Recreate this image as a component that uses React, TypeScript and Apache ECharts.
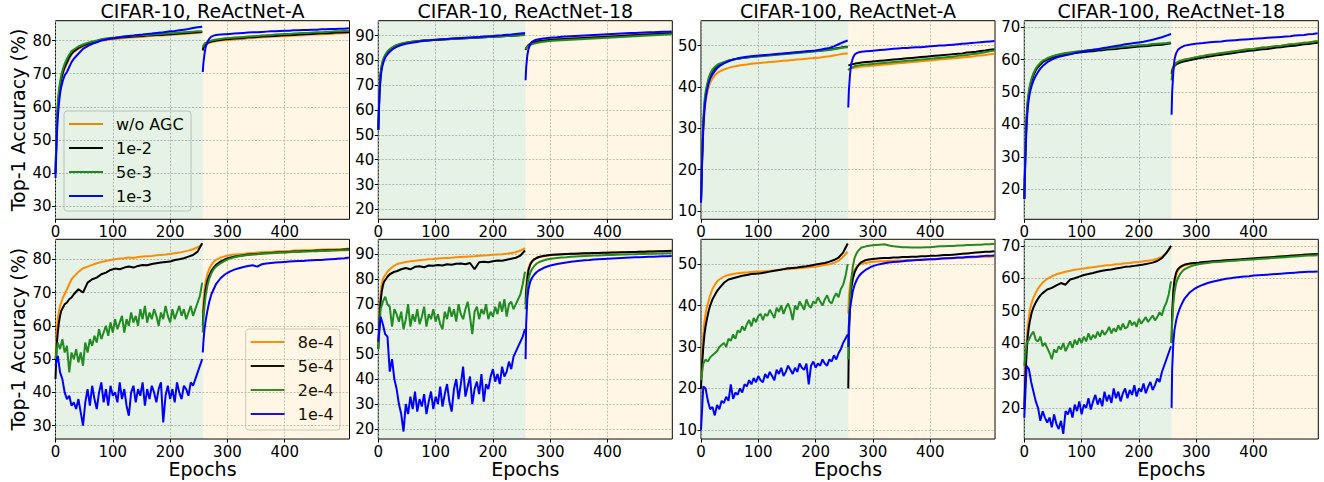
import React, { useEffect, useRef } from 'react';
import * as echarts from 'echarts';

// ---------- shared axes / labels ----------
const EPOCHS_S1 = [0, 2, 4, 6, 8, 10, 13, 16, 20, 24, 28, 32, 40, 48, 56, 64, 72, 80, 88, 96, 104, 112, 120, 128, 136, 144, 152, 160, 168, 176, 184, 192, 200, 208, 216, 224, 232, 240, 248, 256];
const EPOCHS_S1_DENSE = [0, 4, 8, 12, 16, 20, 24, 28, 32, 36, 40, 44, 48, 52, 56, 60, 64, 68, 72, 76, 80, 84, 88, 92, 96, 100, 104, 108, 112, 116, 120, 124, 128, 132, 136, 140, 144, 148, 152, 156, 160, 164, 168, 172, 176, 180, 184, 188, 192, 196, 200, 204, 208, 212, 216, 220, 224, 228, 232, 236, 240, 244, 248, 252, 256];
const EPOCHS_S2 = [257, 258, 260, 262, 265, 268, 272, 276, 280, 288, 296, 304, 312, 320, 328, 336, 344, 352, 360, 368, 376, 384, 392, 400, 408, 416, 424, 432, 440, 448, 456, 464, 472, 480, 488, 496, 504, 512];
const X_TICKS = [0, 100, 200, 300, 400];
const TITLES = ['CIFAR-10, ReActNet-A', 'CIFAR-10, ReActNet-18', 'CIFAR-100, ReActNet-A', 'CIFAR-100, ReActNet-18'];
const AGC_LABELS = ['w/o AGC', '1e-2', '5e-3', '1e-3'];
const WD_LABELS = ['8e-4', '5e-4', '2e-4', '1e-4'];
const Y_TICKS_C10A = [30, 40, 50, 60, 70, 80];
const Y_TICKS_C10R = [20, 30, 40, 50, 60, 70, 80, 90];
const Y_TICKS_C100A = [10, 20, 30, 40, 50];
const Y_TICKS_C100R = [20, 30, 40, 50, 60, 70];
const COLORS = ['#ff8c00', '#000000', '#228b22', '#0000ff'];

// ---------- top row: CIFAR-10, ReActNet-A ----------
const c10A_wo_1 = [40, 52, 59, 63, 66, 68, 70, 71.5, 73, 74.5, 75.8, 76.5, 77.5, 78.2, 78.8, 79.2, 79.6, 80, 80.1, 80.4, 80.5, 80.6, 80.8, 80.9, 81, 81.1, 81.1, 81.3, 81.4, 81.5, 81.5, 81.6, 81.7, 81.8, 81.9, 82, 82.1, 82.2, 82.3, 82.5];
const c10A_wo_2 = [77.5, 78, 78.5, 78.8, 79, 79.3, 79.5, 79.6, 79.8, 80, 80.1, 80.2, 80.3, 80.5, 80.5, 80.7, 80.8, 80.9, 81, 81, 81.1, 81.2, 81.3, 81.3, 81.4, 81.5, 81.5, 81.6, 81.7, 81.8, 81.8, 81.9, 82, 82, 82.1, 82.2, 82.2, 82.3];
const c10A_e2_1 = [40, 53, 60, 64, 66.5, 68.5, 70.5, 72, 73.5, 75, 76, 76.8, 77.8, 78.5, 79, 79.4, 79.8, 80.2, 80.4, 80.6, 80.7, 80.9, 81, 81.1, 81.2, 81.3, 81.4, 81.5, 81.6, 81.7, 81.7, 81.8, 81.9, 82, 82.1, 82.2, 82.3, 82.4, 82.5, 82.6];
const c10A_e2_2 = [77, 77.8, 78.5, 78.8, 79.2, 79.5, 79.7, 79.9, 80, 80.2, 80.4, 80.5, 80.6, 80.7, 80.8, 81, 81, 81.1, 81.2, 81.3, 81.4, 81.4, 81.5, 81.6, 81.7, 81.7, 81.8, 81.9, 82, 82, 82.1, 82.2, 82.2, 82.3, 82.4, 82.4, 82.5, 82.6];
const c10A_5e3_1 = [40, 54, 61, 65, 67.5, 69.5, 71.5, 73, 74.5, 75.8, 76.8, 77.3, 78.2, 78.8, 79.3, 79.7, 80, 80.4, 80.6, 80.8, 80.9, 81.1, 81.2, 81.3, 81.4, 81.5, 81.6, 81.7, 81.8, 81.9, 82, 82.1, 82.2, 82.3, 82.4, 82.5, 82.6, 82.7, 82.8, 82.8];
const c10A_5e3_2 = [78, 78.5, 79, 79.3, 79.5, 79.8, 80, 80.2, 80.3, 80.5, 80.7, 80.8, 80.9, 81, 81.1, 81.2, 81.3, 81.4, 81.5, 81.6, 81.7, 81.8, 81.9, 82, 82, 82.1, 82.2, 82.3, 82.3, 82.4, 82.5, 82.5, 82.6, 82.7, 82.8, 82.8, 82.9, 83];
const c10A_e3_1 = [38.5, 50, 57, 61, 64, 66, 68, 69.5, 70.5, 72, 73.5, 74.5, 76, 77.5, 78.3, 79, 79.5, 80, 80.3, 80.6, 80.8, 81, 81.2, 81.4, 81.5, 81.7, 81.8, 82, 82.1, 82.3, 82.4, 82.6, 82.8, 82.9, 83.1, 83.3, 83.5, 83.8, 84, 84.2];
const c10A_e3_2 = [70.5, 73, 76, 78, 79.5, 80.5, 81.2, 81.5, 81.7, 81.8, 81.9, 82, 82.1, 82.2, 82.3, 82.4, 82.5, 82.5, 82.6, 82.7, 82.8, 82.8, 82.9, 83, 83, 83.1, 83.1, 83.2, 83.2, 83.3, 83.3, 83.4, 83.4, 83.5, 83.5, 83.6, 83.6, 83.7];

// ---------- top row: CIFAR-10, ReActNet-18 ----------
const c10R_wo_1 = [52, 68, 75, 78, 80, 81, 82.5, 83.5, 84.5, 85.2, 85.8, 86.2, 86.8, 87.2, 87.5, 87.7, 87.9, 88.1, 88.2, 88.3, 88.4, 88.5, 88.6, 88.7, 88.8, 88.9, 89, 89.1, 89.1, 89.2, 89.3, 89.4, 89.5, 89.6, 89.7, 89.8, 89.9, 90, 90.1, 90.3];
const c10R_wo_2 = [84.5, 85, 85.8, 86.3, 86.8, 87.2, 87.5, 87.7, 87.9, 88.1, 88.3, 88.5, 88.6, 88.7, 88.8, 88.9, 89, 89.1, 89.2, 89.3, 89.4, 89.5, 89.6, 89.7, 89.8, 89.9, 90, 90.1, 90.2, 90.3, 90.4, 90.5, 90.6, 90.7, 90.8, 90.9, 91, 91.1];
const c10R_e2_1 = [52, 67, 74.5, 77.5, 79.5, 80.8, 82.3, 83.3, 84.3, 85, 85.6, 86, 86.6, 87, 87.4, 87.6, 87.8, 88, 88.1, 88.2, 88.3, 88.4, 88.5, 88.6, 88.7, 88.8, 88.9, 89, 89.1, 89.2, 89.3, 89.4, 89.5, 89.6, 89.7, 89.8, 89.9, 90, 90.2, 90.3];
const c10R_e2_2 = [84.2, 84.8, 85.5, 86, 86.6, 87, 87.3, 87.5, 87.7, 87.9, 88.1, 88.3, 88.4, 88.5, 88.6, 88.7, 88.8, 88.9, 89, 89.1, 89.2, 89.3, 89.4, 89.5, 89.6, 89.7, 89.8, 89.9, 90, 90.1, 90.2, 90.3, 90.4, 90.5, 90.6, 90.7, 90.8, 90.9];
const c10R_5e3_1 = [52, 68, 75, 78, 80, 81.2, 82.6, 83.6, 84.5, 85.2, 85.7, 86.1, 86.7, 87.1, 87.4, 87.6, 87.8, 88, 88.1, 88.2, 88.3, 88.4, 88.5, 88.6, 88.7, 88.8, 88.9, 89, 89.1, 89.2, 89.3, 89.4, 89.5, 89.6, 89.7, 89.8, 89.9, 90, 90.1, 90.2];
const c10R_5e3_2 = [84.5, 85, 85.5, 85.8, 86.2, 86.5, 86.8, 87, 87.2, 87.5, 87.7, 87.9, 88, 88.1, 88.2, 88.3, 88.4, 88.5, 88.6, 88.7, 88.8, 88.9, 89, 89.1, 89.2, 89.3, 89.4, 89.5, 89.6, 89.7, 89.8, 89.9, 90, 90.1, 90.2, 90.3, 90.4, 90.5];
const c10R_e3_1 = [52, 66, 73, 76.5, 78.5, 80, 81.5, 82.5, 83.5, 84.3, 85, 85.5, 86.2, 86.7, 87, 87.3, 87.6, 87.9, 88, 88.2, 88.3, 88.5, 88.6, 88.8, 88.9, 89, 89.1, 89.2, 89.3, 89.4, 89.6, 89.7, 89.8, 90, 90.1, 90.3, 90.4, 90.6, 90.8, 91];
const c10R_e3_2 = [72, 77, 82, 84.5, 86.5, 87.5, 88, 88.3, 88.5, 88.8, 89, 89.2, 89.3, 89.5, 89.6, 89.7, 89.8, 89.9, 90, 90.1, 90.2, 90.3, 90.4, 90.5, 90.6, 90.7, 90.8, 90.9, 91, 91, 91.1, 91.2, 91.3, 91.3, 91.4, 91.5, 91.5, 91.6];

// ---------- top row: CIFAR-100, ReActNet-A ----------
const c100A_wo_1 = [12, 22, 30, 34, 36.5, 38, 39.8, 41, 42, 42.8, 43.3, 43.7, 44.2, 44.6, 44.9, 45.1, 45.3, 45.4, 45.6, 45.7, 45.8, 45.9, 46, 46.1, 46.2, 46.3, 46.4, 46.5, 46.6, 46.7, 46.8, 46.9, 47, 47.1, 47.3, 47.4, 47.6, 47.8, 48, 48.1];
const c100A_wo_2 = [44.3, 44.2, 44.4, 44.5, 44.5, 44.6, 44.7, 44.8, 44.9, 45, 45.1, 45.2, 45.3, 45.4, 45.5, 45.6, 45.7, 45.8, 45.9, 46, 46.1, 46.2, 46.3, 46.4, 46.5, 46.6, 46.7, 46.8, 46.9, 47, 47.1, 47.2, 47.3, 47.5, 47.6, 47.7, 47.9, 48];
const c100A_e2_1 = [12, 23, 31, 35.5, 38, 39.5, 41.5, 42.8, 43.8, 44.5, 45, 45.4, 45.9, 46.3, 46.6, 46.8, 47, 47.1, 47.3, 47.4, 47.5, 47.6, 47.7, 47.8, 47.9, 48, 48.1, 48.2, 48.3, 48.4, 48.5, 48.6, 48.7, 48.8, 48.9, 49, 49.2, 49.4, 49.6, 49.7];
const c100A_e2_2 = [45.2, 45.3, 45.3, 45.4, 45.5, 45.6, 45.7, 45.8, 45.9, 46, 46.1, 46.2, 46.3, 46.4, 46.5, 46.6, 46.7, 46.8, 46.9, 47, 47.1, 47.2, 47.3, 47.4, 47.5, 47.6, 47.7, 47.8, 47.9, 48, 48.1, 48.3, 48.4, 48.5, 48.7, 48.8, 49, 49.1];
const c100A_5e3_1 = [12, 24, 32, 36.5, 38.8, 40.2, 42, 43.2, 44.2, 44.8, 45.3, 45.6, 46, 46.4, 46.6, 46.8, 47, 47.1, 47.2, 47.3, 47.4, 47.5, 47.6, 47.7, 47.8, 47.9, 48, 48.1, 48.2, 48.3, 48.4, 48.5, 48.6, 48.7, 48.8, 48.9, 49.1, 49.3, 49.5, 49.6];
const c100A_5e3_2 = [44, 44.2, 44.4, 44.6, 44.8, 45, 45.1, 45.2, 45.3, 45.4, 45.5, 45.6, 45.7, 45.8, 45.9, 46, 46.1, 46.2, 46.3, 46.4, 46.5, 46.6, 46.7, 46.8, 46.9, 47, 47.1, 47.2, 47.3, 47.5, 47.6, 47.7, 47.9, 48, 48.2, 48.4, 48.6, 48.8];
const c100A_e3_1 = [12, 22, 30, 34.5, 37, 38.8, 40.8, 42, 43, 43.8, 44.5, 45, 45.7, 46.2, 46.6, 46.9, 47.1, 47.3, 47.4, 47.5, 47.6, 47.7, 47.8, 47.9, 48, 48.1, 48.2, 48.3, 48.4, 48.5, 48.6, 48.7, 48.8, 49, 49.2, 49.4, 49.8, 50.3, 50.8, 51.2];
const c100A_e3_2 = [35, 39, 43, 45.5, 47, 47.8, 48.2, 48.4, 48.5, 48.6, 48.7, 48.8, 48.9, 49, 49.1, 49.2, 49.3, 49.4, 49.4, 49.5, 49.6, 49.6, 49.7, 49.8, 49.9, 50, 50, 50.1, 50.2, 50.3, 50.4, 50.5, 50.6, 50.7, 50.8, 50.9, 51, 51.1];

// ---------- top row: CIFAR-100, ReActNet-18 ----------
const c100R_wo_1 = [17, 33, 42, 47, 50, 52, 54, 55.5, 57, 58, 58.8, 59.5, 60.3, 60.9, 61.3, 61.6, 61.9, 62.1, 62.3, 62.5, 62.6, 62.8, 62.9, 63.1, 63.2, 63.4, 63.5, 63.6, 63.8, 63.9, 64, 64.2, 64.3, 64.4, 64.5, 64.7, 64.8, 64.9, 65, 65.2];
const c100R_wo_2 = [56, 57, 58, 58.5, 59, 59.3, 59.6, 59.8, 60, 60.3, 60.6, 60.9, 61.1, 61.4, 61.6, 61.8, 62, 62.2, 62.4, 62.6, 62.8, 63, 63.2, 63.3, 63.5, 63.7, 63.8, 64, 64.2, 64.3, 64.5, 64.7, 64.8, 65, 65.2, 65.3, 65.5, 65.7];
const c100R_e2_1 = [17, 32, 41.5, 46.5, 49.5, 51.5, 53.6, 55.2, 56.7, 57.7, 58.5, 59.2, 60, 60.6, 61, 61.3, 61.6, 61.8, 62, 62.2, 62.3, 62.5, 62.6, 62.8, 62.9, 63.1, 63.2, 63.3, 63.5, 63.6, 63.7, 63.9, 64, 64.1, 64.2, 64.4, 64.5, 64.6, 64.8, 65];
const c100R_e2_2 = [55.5, 56.5, 57.5, 58, 58.5, 58.8, 59.1, 59.3, 59.5, 59.8, 60.1, 60.4, 60.6, 60.9, 61.1, 61.3, 61.5, 61.7, 61.9, 62.1, 62.3, 62.5, 62.7, 62.8, 63, 63.2, 63.3, 63.5, 63.7, 63.8, 64, 64.2, 64.3, 64.5, 64.7, 64.8, 65, 65.2];
const c100R_5e3_1 = [17, 33, 42.5, 47.5, 50.3, 52.3, 54.3, 55.8, 57.2, 58.2, 59, 59.6, 60.4, 61, 61.4, 61.7, 62, 62.2, 62.4, 62.6, 62.7, 62.9, 63, 63.2, 63.3, 63.5, 63.6, 63.7, 63.9, 64, 64.1, 64.3, 64.4, 64.5, 64.6, 64.8, 64.9, 65, 65.1, 65.3];
const c100R_5e3_2 = [53.6, 55.5, 57.2, 58.2, 58.9, 59.3, 59.6, 59.8, 60, 60.3, 60.6, 60.9, 61.1, 61.4, 61.6, 61.8, 62, 62.2, 62.4, 62.6, 62.8, 63, 63.2, 63.3, 63.5, 63.7, 63.8, 64, 64.2, 64.3, 64.5, 64.7, 64.8, 65, 65.2, 65.3, 65.5, 65.7];
const c100R_e3_1 = [17, 30, 40, 45, 48, 50, 52, 53.5, 55, 56.2, 57.2, 58, 59.2, 60, 60.6, 61, 61.3, 61.6, 62, 62.3, 62.6, 62.8, 63, 63.2, 63.5, 63.7, 64, 64.2, 64.4, 64.7, 64.9, 65.1, 65.3, 65.5, 65.8, 66.1, 66.5, 66.9, 67.4, 67.9];
const c100R_e3_2 = [43, 50, 56, 60, 62, 63, 63.6, 64, 64.3, 64.6, 64.8, 65, 65.1, 65.3, 65.4, 65.5, 65.6, 65.8, 65.9, 66, 66.1, 66.2, 66.3, 66.4, 66.5, 66.6, 66.7, 66.8, 66.9, 67, 67.1, 67.2, 67.4, 67.5, 67.6, 67.8, 67.9, 68.1];

// ---------- bottom row: CIFAR-10, ReActNet-A ----------
const wd10A_8_1 = [50, 58, 62, 64.5, 66, 67, 68.5, 69.5, 71, 72.5, 74, 74.8, 76.2, 77.3, 77.8, 78.3, 78.8, 79.2, 79.5, 79.8, 80, 80.2, 80.3, 80.5, 80.4, 80.7, 80.8, 80.9, 81, 81.2, 81.3, 81.4, 81.6, 81.8, 82, 82.3, 82.6, 83, 83.6, 84.5];
const wd10A_8_2 = [64, 67, 71, 73.5, 75.5, 77, 78.3, 79.2, 79.8, 80.5, 80.9, 81.2, 81.4, 81.5, 81.6, 81.8, 81.9, 82, 82.1, 82.2, 82.2, 82.3, 82.4, 82.4, 82.5, 82.6, 82.6, 82.7, 82.7, 82.8, 82.8, 82.9, 82.9, 83, 83, 83.1, 83.1, 83.2];
const wd10A_5_1 = [44, 54, 58, 61, 63, 64.5, 65.5, 66.5, 67, 68, 68.5, 69.5, 71, 70, 73, 74, 74.5, 75.5, 76, 76.8, 77.2, 77, 77.5, 77.8, 77.5, 78, 78.3, 78.2, 78.6, 78.8, 79, 79.2, 79.3, 79.8, 80, 80.3, 80.8, 81.3, 82.3, 84.8];
const wd10A_5_2 = [60, 64, 68, 71, 73.5, 75, 76.5, 77.5, 78.3, 79.3, 80, 80.5, 80.8, 81, 81.2, 81.4, 81.5, 81.6, 81.7, 81.8, 81.9, 82, 82.1, 82.1, 82.2, 82.3, 82.3, 82.4, 82.5, 82.5, 82.6, 82.6, 82.7, 82.7, 82.8, 82.8, 82.9, 83];
const wd10A_2_1 = [50, 55, 53, 56, 52, 54, 46, 52, 50, 53, 49, 52, 48, 55, 52, 56, 54, 57, 55, 59, 56, 58, 60, 57, 61, 58, 62, 59, 61, 63, 58, 62, 60, 64, 61, 63, 60, 65, 62, 66, 61, 64, 62, 65, 63, 60, 64, 62, 66, 63, 61, 65, 62, 64, 66, 63, 65, 62, 64, 66, 63, 65, 67, 69, 73];
const wd10A_2_2 = [58, 62, 66, 69, 72, 74, 75.8, 77, 77.8, 78.8, 79.6, 80.2, 80.6, 80.9, 81.1, 81.3, 81.4, 81.5, 81.7, 81.8, 81.8, 81.9, 82, 82, 82.1, 82.2, 82.2, 82.3, 82.3, 82.4, 82.4, 82.5, 82.5, 82.6, 82.6, 82.7, 82.7, 82.8];
const wd10A_1_1 = [48, 51, 46, 44, 40, 38, 39, 36, 37, 35, 38, 34, 30, 37, 41, 36, 42, 38, 35, 40, 43, 37, 41, 36, 42, 39, 40, 37, 43, 38, 41, 36, 33, 40, 42, 37, 41, 39, 43, 36, 41, 38, 42, 40, 37, 41, 43, 31, 39, 42, 38, 41, 37, 43, 40, 38, 42, 41, 39, 43, 42, 44, 46, 48, 50];
const wd10A_1_2 = [52, 55, 59, 61.5, 64.5, 67, 69.5, 71, 72.5, 74.3, 75.5, 76.3, 76.9, 77.3, 77.7, 78, 78.2, 77.8, 78.5, 78.7, 78.9, 79, 79.1, 79.2, 79.3, 79.4, 79.5, 79.5, 79.6, 79.7, 79.8, 79.8, 79.9, 80, 80.1, 80.2, 80.3, 80.5];

// ---------- bottom row: CIFAR-10, ReActNet-18 ----------
const wd10R_8_1 = [55, 66, 74, 78, 80, 81, 82, 83, 84, 84.8, 85.5, 86, 86.5, 86.9, 87.2, 87.4, 87.6, 87.8, 88, 88.1, 88.3, 88.4, 88.5, 88.6, 88.8, 88.9, 89, 89.1, 89.2, 89.4, 89.5, 89.6, 89.8, 89.9, 90, 90.2, 90.5, 90.8, 91.5, 92.5];
const wd10R_8_2 = [72, 77, 82, 84.5, 86.3, 87.3, 88, 88.5, 88.8, 89.2, 89.5, 89.7, 89.8, 89.9, 90, 90.1, 90.2, 90.3, 90.3, 90.4, 90.5, 90.5, 90.6, 90.6, 90.7, 90.7, 90.8, 90.8, 90.9, 90.9, 91, 91, 91.1, 91.1, 91.2, 91.2, 91.3, 91.3];
const wd10R_5_1 = [52, 64, 71, 75, 77.5, 79, 80, 81, 82, 82.5, 83, 83.2, 84, 84.5, 84, 85, 85.2, 84.8, 85.5, 85.4, 85.7, 85.5, 86, 85.8, 86.2, 86.3, 86, 86.5, 84, 86.8, 87, 86.8, 87.2, 87.5, 87.4, 87.8, 88.2, 88.6, 89.5, 91.5];
const wd10R_5_2 = [70, 75, 80, 83.5, 85.8, 87, 88, 88.5, 88.9, 89.3, 89.6, 89.8, 89.9, 90, 90.1, 90.2, 90.2, 90.3, 90.4, 90.4, 90.5, 90.5, 90.6, 90.6, 90.7, 90.7, 90.8, 90.8, 90.9, 90.9, 91, 91, 91.1, 91.1, 91.2, 91.2, 91.3, 91.4];
const wd10R_2_1 = [52, 68, 71, 73, 70, 69, 61, 68, 66, 63, 67, 60, 64, 70, 61, 66, 63, 68, 62, 65, 69, 61, 66, 64, 68, 63, 66, 62, 60, 67, 64, 69, 65, 68, 63, 70, 66, 64, 68, 71, 65, 58, 67, 69, 64, 68, 66, 70, 64, 67, 65, 69, 66, 71, 67, 72, 65, 70, 71, 68, 70, 72, 74, 78, 83];
const wd10R_2_2 = [68, 72, 77, 80, 82.5, 84, 85.3, 86.2, 86.8, 87.5, 88, 88.3, 88.5, 88.7, 88.8, 89, 89.1, 89.2, 89.3, 89.4, 89.5, 89.5, 89.6, 89.7, 89.7, 89.8, 89.9, 89.9, 90, 90, 90.1, 90.1, 90.2, 90.2, 90.3, 90.3, 90.4, 90.4];
const wd10R_1_1 = [55, 65, 62, 58, 57, 43, 48, 40, 36, 30, 26, 19, 30, 26, 33, 28, 35, 27, 32, 29, 34, 26, 31, 35, 28, 33, 30, 37, 29, 34, 38, 31, 27, 36, 40, 32, 38, 45, 33, 37, 41, 30, 36, 39, 34, 42, 31, 38, 36, 41, 44, 39, 42, 38, 45, 41, 43, 47, 44, 49, 51, 53, 55, 57, 60];
const wd10R_1_2 = [48, 62, 72, 76, 79, 80.5, 81.8, 82.8, 83.5, 84.5, 85.2, 85.7, 86.1, 86.4, 86.7, 87, 87.2, 87.4, 87.6, 87.7, 87.9, 88, 88.1, 88.2, 88.3, 88.4, 88.5, 88.6, 88.7, 88.8, 88.8, 88.9, 89, 89, 89.1, 89.2, 89.2, 89.3];

// ---------- bottom row: CIFAR-100, ReActNet-A ----------
const wd100A_8_1 = [22, 28, 33, 36, 38, 39.5, 41, 42.5, 44, 45, 45.8, 46.3, 47, 47.4, 47.6, 47.8, 47.9, 48, 48.1, 48.2, 48.2, 48.3, 48.4, 48.5, 48.6, 48.7, 48.8, 48.9, 49, 49.1, 49.2, 49.3, 49.4, 49.6, 49.8, 50, 50.3, 50.8, 51.8, 53];
const wd100A_8_2 = [38, 42, 45, 46.5, 47.8, 48.7, 49.4, 49.8, 50.1, 50.3, 50.5, 50.6, 50.7, 50.7, 50.8, 50.8, 50.9, 50.9, 51, 51, 51, 51.1, 51.1, 51.2, 51.2, 51.3, 51.3, 51.4, 51.4, 51.5, 51.5, 51.6, 51.6, 51.7, 51.7, 51.8, 51.8, 51.9];
const wd100A_5_1 = [20, 26, 30, 33, 35, 36.5, 38.5, 40, 41.5, 42.5, 43.5, 44.2, 45.5, 46.3, 46.6, 46.9, 47.2, 47.4, 47.6, 47.7, 47.8, 48, 48.2, 48.4, 48.6, 48.8, 49, 49.1, 49.2, 49.4, 49.5, 49.7, 49.9, 50.1, 50.3, 50.6, 51, 51.6, 52.8, 55];
const wd100A_5_2 = [20, 32, 40, 44, 46.5, 48, 49.2, 50, 50.5, 51, 51.2, 51.3, 51.4, 51.5, 51.5, 51.6, 51.6, 51.7, 51.7, 51.8, 51.8, 51.9, 51.9, 52, 52, 52.1, 52.2, 52.2, 52.3, 52.4, 52.5, 52.6, 52.7, 52.8, 52.9, 53, 53, 53.1];
const wd100A_2_1 = [22, 26, 27, 26.5, 27.5, 28, 28.5, 29, 30, 30.5, 31, 30, 32, 31.5, 33, 32, 34, 33.5, 35, 34, 35.5, 36.5, 35, 37, 36, 37.5, 38, 36.5, 38, 37.5, 39, 38, 37, 39.5, 38.5, 40, 38, 39.5, 40.5, 39, 36.5, 40, 39, 41, 40, 39, 41.5, 40, 39.5, 41, 40.5, 42, 41, 40, 41.5, 42.5, 41, 40.5, 42, 43, 42, 44, 45, 47, 50];
const wd100A_2_2 = [27, 35, 42, 46, 49.5, 51.5, 52.8, 53.5, 54, 54.3, 54.5, 54.6, 54.7, 54.8, 54.5, 54.3, 54.2, 54.1, 54.1, 54, 54, 54, 54.1, 54.1, 54.2, 54.3, 54.3, 54.4, 54.4, 54.5, 54.5, 54.6, 54.6, 54.7, 54.7, 54.8, 54.8, 54.9];
const wd100A_1_1 = [10, 20.5, 20, 17, 15, 15.5, 13.5, 16, 15, 17, 16.5, 18, 17, 21, 17.5, 19, 18.5, 20, 19, 21, 20.5, 22, 21, 22.5, 21.5, 23, 22, 21.5, 23.5, 22.5, 24, 23, 22, 24.5, 23.5, 25, 23, 24, 25.5, 24.5, 23.5, 25, 24, 26, 25, 24.5, 26, 21, 25.5, 26.5, 25, 26, 25.5, 27, 26, 25.5, 27, 26.5, 28, 27, 28.5, 29.5, 31, 32, 33];
const wd100A_1_2 = [30, 35, 39, 41, 43.5, 45, 46.3, 47.2, 47.8, 48.7, 49.3, 49.7, 50, 50.2, 50.4, 50.5, 50.6, 50.7, 50.8, 50.9, 51, 51, 51.1, 51.2, 51.2, 51.3, 51.4, 51.4, 51.5, 51.6, 51.6, 51.7, 51.8, 51.8, 51.9, 52, 52, 52.1];

// ---------- bottom row: CIFAR-100, ReActNet-18 ----------
const wd100R_8_1 = [20, 32, 40, 45, 48, 50.5, 52.5, 54, 55.5, 56.8, 57.8, 58.6, 59.8, 60.6, 61.2, 61.6, 62, 62.3, 62.6, 62.8, 63, 63.2, 63.4, 63.6, 63.8, 64, 64.1, 64.3, 64.4, 64.6, 64.7, 64.9, 65, 65.2, 65.4, 65.6, 66, 66.6, 67.8, 69.5];
const wd100R_8_2 = [40, 48, 55, 58.5, 61, 62.3, 63.2, 63.7, 64, 64.3, 64.5, 64.7, 64.9, 65, 65.1, 65.2, 65.4, 65.5, 65.6, 65.7, 65.8, 65.9, 66, 66.1, 66.2, 66.3, 66.4, 66.5, 66.6, 66.7, 66.8, 66.9, 67, 67.1, 67.2, 67.3, 67.4, 67.5];
const wd100R_5_1 = [20, 30, 37, 42, 45, 47, 49.5, 51, 52.5, 53.7, 54.7, 55.4, 56.5, 57, 57.8, 58.5, 58, 59.6, 60, 60.5, 61, 61.3, 61.6, 62, 62.3, 62.5, 62.7, 63, 63.2, 63.5, 63.6, 63.8, 64, 64.2, 64.5, 64.8, 65.3, 66.2, 67.8, 70];
const wd100R_5_2 = [40, 49, 56, 59.5, 61.8, 62.8, 63.5, 63.9, 64.2, 64.5, 64.7, 64.8, 65, 65.1, 65.2, 65.3, 65.4, 65.5, 65.6, 65.7, 65.8, 65.9, 66, 66.1, 66.2, 66.3, 66.4, 66.5, 66.6, 66.7, 66.8, 66.9, 67, 67.1, 67.2, 67.3, 67.4, 67.5];
const wd100R_2_1 = [33, 40, 41, 42.5, 43.5, 41, 40.5, 42, 39, 40, 38.5, 37, 35, 38, 37, 39, 38, 40, 37.5, 39, 40.5, 38.5, 41, 39.5, 41.5, 40, 42, 40.5, 43, 41, 42.5, 41.5, 43.5, 42, 44, 42.5, 43.5, 45, 43, 44.5, 43.5, 45.5, 44, 46, 44.5, 45, 47, 45.5, 46.5, 45, 47.5, 46, 47, 48, 46.5, 47.5, 48.5, 47, 48, 49.5, 48.5, 51, 52.5, 55, 59];
const wd100R_2_2 = [40, 46, 52, 55.5, 58.5, 60, 61.3, 62.2, 62.8, 63.5, 64, 64.3, 64.5, 64.7, 64.9, 65, 65.1, 65.2, 65.3, 65.4, 65.5, 65.6, 65.7, 65.8, 65.9, 66, 66.1, 66.2, 66.3, 66.4, 66.5, 66.6, 66.7, 66.8, 66.9, 67, 67, 67.1];
const wd100R_1_1 = [17, 33, 32, 28, 25, 22, 20, 16, 19, 17, 15.5, 17, 14, 18, 15, 13.5, 16, 12, 19, 18, 20, 17, 21, 19, 22, 18, 21, 20, 23, 19.5, 22, 24, 21, 23, 20.5, 25, 22, 24, 21.5, 26, 23, 25, 22, 24.5, 26, 23, 25.5, 24, 27, 23.5, 26, 25, 27.5, 24.5, 26.5, 28, 25.5, 27, 29, 28, 31, 33, 35, 37, 39];
const wd100R_1_2 = [20, 32, 40, 44, 47, 49, 51, 52.5, 53.8, 55.5, 56.6, 57.4, 58, 58.5, 58.9, 59.2, 59.5, 59.8, 60, 60.2, 60.4, 60.5, 60.6, 60.8, 60.9, 61, 61.1, 61.2, 61.3, 61.4, 61.5, 61.6, 61.7, 61.8, 61.9, 62, 62, 62.1];

// ---------- layout ----------
const COL_LEFT = [55.5, 378.3, 701, 1024.3];
const PLOT_W = 294;
const ROW_TOP = [20.7, 239.3];
const ROW_H = [198.6, 199.7];
const FONT = 'DejaVu Sans';
// legend boxes: [left, top, width, height]
const LEGEND_BOXES = [
  { labels: AGC_LABELS, x: 64, y: 111, w: 127, h: 100 },
  { labels: WD_LABELS, x: 245.7, y: 329, w: 94.3, h: 101 },
];

type Curve = { s1: number[]; s2: number[]; x1?: number[] };
type Panel = { row: number; col: number; names: string[]; yMin: number; yMax: number; ticks: number[]; curves: Curve[] };

const D = EPOCHS_S1_DENSE;
const PANELS: Panel[] = [
  { row: 0, col: 0, names: AGC_LABELS, yMin: 26, yMax: 86, ticks: Y_TICKS_C10A, curves: [{ s1: c10A_wo_1, s2: c10A_wo_2 }, { s1: c10A_e2_1, s2: c10A_e2_2 }, { s1: c10A_5e3_1, s2: c10A_5e3_2 }, { s1: c10A_e3_1, s2: c10A_e3_2 }] },
  { row: 0, col: 1, names: AGC_LABELS, yMin: 16, yMax: 96, ticks: Y_TICKS_C10R, curves: [{ s1: c10R_wo_1, s2: c10R_wo_2 }, { s1: c10R_e2_1, s2: c10R_e2_2 }, { s1: c10R_5e3_1, s2: c10R_5e3_2 }, { s1: c10R_e3_1, s2: c10R_e3_2 }] },
  { row: 0, col: 2, names: AGC_LABELS, yMin: 8, yMax: 56, ticks: Y_TICKS_C100A, curves: [{ s1: c100A_wo_1, s2: c100A_wo_2 }, { s1: c100A_e2_1, s2: c100A_e2_2 }, { s1: c100A_5e3_1, s2: c100A_5e3_2 }, { s1: c100A_e3_1, s2: c100A_e3_2 }] },
  { row: 0, col: 3, names: AGC_LABELS, yMin: 10.7, yMax: 72, ticks: Y_TICKS_C100R, curves: [{ s1: c100R_wo_1, s2: c100R_wo_2 }, { s1: c100R_e2_1, s2: c100R_e2_2 }, { s1: c100R_5e3_1, s2: c100R_5e3_2 }, { s1: c100R_e3_1, s2: c100R_e3_2 }] },
  { row: 1, col: 0, names: WD_LABELS, yMin: 26, yMax: 86, ticks: Y_TICKS_C10A, curves: [{ s1: wd10A_8_1, s2: wd10A_8_2 }, { s1: wd10A_5_1, s2: wd10A_5_2 }, { s1: wd10A_2_1, s2: wd10A_2_2, x1: D }, { s1: wd10A_1_1, s2: wd10A_1_2, x1: D }] },
  { row: 1, col: 1, names: WD_LABELS, yMin: 16, yMax: 96, ticks: Y_TICKS_C10R, curves: [{ s1: wd10R_8_1, s2: wd10R_8_2 }, { s1: wd10R_5_1, s2: wd10R_5_2 }, { s1: wd10R_2_1, s2: wd10R_2_2, x1: D }, { s1: wd10R_1_1, s2: wd10R_1_2, x1: D }] },
  { row: 1, col: 2, names: WD_LABELS, yMin: 7.8, yMax: 56, ticks: Y_TICKS_C100A, curves: [{ s1: wd100A_8_1, s2: wd100A_8_2 }, { s1: wd100A_5_1, s2: wd100A_5_2 }, { s1: wd100A_2_1, s2: wd100A_2_2, x1: D }, { s1: wd100A_1_1, s2: wd100A_1_2, x1: D }] },
  { row: 1, col: 3, names: WD_LABELS, yMin: 10.4, yMax: 72, ticks: Y_TICKS_C100R, curves: [{ s1: wd100R_8_1, s2: wd100R_8_2 }, { s1: wd100R_5_1, s2: wd100R_5_2 }, { s1: wd100R_2_1, s2: wd100R_2_2, x1: D }, { s1: wd100R_1_1, s2: wd100R_1_2, x1: D }] },
];

function joinStages(c: Curve) {
  const x1 = c.x1 || EPOCHS_S1;
  const out: any[] = x1.map((x, i) => [x, c.s1[i]]);
  out.push([256.5, null]);
  EPOCHS_S2.forEach((x, i) => out.push([x, c.s2[i]]));
  return out;
}

function buildOption() {
  const grid = PANELS.map((p) => ({
    left: COL_LEFT[p.col], top: ROW_TOP[p.row], width: PLOT_W, height: ROW_H[p.row],
    show: true, borderColor: '#000', borderWidth: 1, backgroundColor: 'transparent',
  }));
  const splitStyle = { color: '#b0b0b0', width: 0.8, type: [2, 1.5] };
  const xAxis = PANELS.map((p, i) => ({
    type: 'value', gridIndex: i, min: 0, max: 513,
    axisLine: { show: false },
    axisTick: { show: true, length: 3.5, customValues: X_TICKS, lineStyle: { color: '#000', width: 1 } },
    axisLabel: { customValues: X_TICKS, fontSize: 15, color: '#000', fontFamily: FONT, margin: 5 },
    splitLine: { show: true, lineStyle: splitStyle },
  }));
  const yAxis = PANELS.map((p, i) => ({
    type: 'value', gridIndex: i, min: p.yMin, max: p.yMax,
    axisLine: { show: false },
    axisTick: { show: true, length: 3.5, customValues: p.ticks, lineStyle: { color: '#000', width: 1 } },
    axisLabel: { customValues: p.ticks, fontSize: 15, color: '#000', fontFamily: FONT, margin: 4 },
    splitLine: { show: true, lineStyle: splitStyle },
  }));
  const series: any[] = [];
  PANELS.forEach((p, i) => {
    p.curves.forEach((c, k) => {
      const s: any = {
        type: 'line', name: p.names[k], xAxisIndex: i, yAxisIndex: i,
        data: joinStages(c), showSymbol: false, symbol: 'none', connectNulls: false,
        color: COLORS[k], itemStyle: { color: COLORS[k] },
        lineStyle: { color: COLORS[k], width: 2 }, silent: true, z: 3 + k,
      };
      if (k === 0) {
        s.markArea = {
          silent: true,
          data: [
            [{ xAxis: 0, itemStyle: { color: 'rgba(0,128,0,0.1)' } }, { xAxis: 257 }],
            [{ xAxis: 257, itemStyle: { color: 'rgba(255,165,0,0.1)' } }, { xAxis: 513 }],
          ],
        };
      }
      series.push(s);
    });
  });

  const graphic: any[] = [];
  TITLES.forEach((t, c) => {
    graphic.push({ type: 'text', x: COL_LEFT[c] + PLOT_W / 2, y: 11, style: { text: t, font: `19px "${FONT}"`, fill: '#000', textAlign: 'center', textVerticalAlign: 'middle' } });
    graphic.push({ type: 'text', x: COL_LEFT[c] + PLOT_W / 2, y: 469, style: { text: 'Epochs', font: `19px "${FONT}"`, fill: '#000', textAlign: 'center', textVerticalAlign: 'middle' } });
  });
  [0, 1].forEach((r) => {
    graphic.push({ type: 'text', x: 17.5, y: ROW_TOP[r] + ROW_H[r] / 2, rotation: Math.PI / 2, style: { text: 'Top-1 Accuracy (%)', font: `19px "${FONT}"`, fill: '#000', textAlign: 'center', textVerticalAlign: 'middle' } });
  });
  // legends (box + line samples + labels)
  LEGEND_BOXES.forEach((L) => {
    const children: any[] = [
      { type: 'rect', shape: { x: 0, y: 0, width: L.w, height: L.h, r: 3 }, style: { fill: 'rgba(255,255,255,0.8)', stroke: '#cccccc', lineWidth: 1 } },
    ];
    L.labels.forEach((lab, k) => {
      const cy = 13 + k * 24;
      children.push({ type: 'line', shape: { x1: 5, y1: cy, x2: 39, y2: cy }, style: { stroke: COLORS[k], lineWidth: 2 } });
      children.push({ type: 'text', x: 52, y: cy, style: { text: lab, font: `16px "${FONT}"`, fill: '#000', textAlign: 'left', textVerticalAlign: 'middle' } });
    });
    graphic.push({ type: 'group', x: L.x, y: L.y, z: 100, silent: true, children });
  });
  return { animation: false, backgroundColor: '#fff', grid, xAxis, yAxis, series, graphic };
}

export default function App() {
  const ref = useRef<HTMLDivElement>(null);
  useEffect(() => {
    document.body.style.margin = '0';
    if (!ref.current) return;
    const chart = echarts.init(ref.current, undefined, { renderer: 'svg', width: 1324, height: 482 });
    chart.setOption(buildOption() as any);
    return () => chart.dispose();
  }, []);
  return <div ref={ref} style={{ width: 1324, height: 482, position: 'absolute', left: 0, top: 0 }} />;
}
